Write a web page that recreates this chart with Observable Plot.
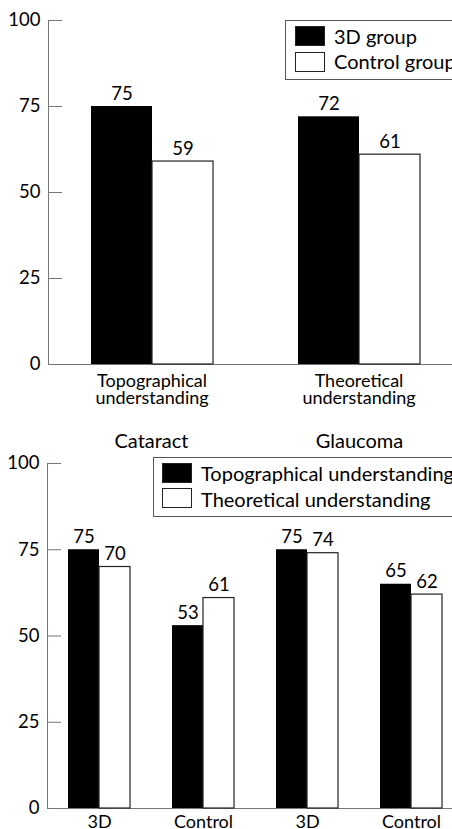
<!DOCTYPE html>
<html>
<head>
<meta charset="utf-8">
<script src="https://cdn.jsdelivr.net/npm/d3@7"></script>
<script src="https://cdn.jsdelivr.net/npm/@observablehq/plot@0.6"></script>
<style>
  html, body { margin: 0; padding: 0; background: #fff; overflow: hidden; }
  body { width: 452px; height: 829px; font-family: Lato, "Noto Sans", sans-serif; color: #000; }
  .panel { position: relative; width: 452px; overflow: hidden; }
  .panel svg { display: block; }
  .legend { position: absolute; box-sizing: border-box; border: 1px solid #555; background: #fff; width: 340px; height: 60px; }
  .sw { position: absolute; box-sizing: border-box; width: 30px; height: 20px; }
  .lt { position: absolute; font-size: 20px; line-height: 20px; white-space: nowrap; }
</style>
</head>
<body>
<div id="top" class="panel"></div>
<div id="bottom" class="panel"></div>
<script>
// ---------- data: top chart ----------
const topCategories = ["Topographical understanding", "Theoretical understanding"];
const topSeries = ["3D group", "Control group"];
const top3D = [75, 72];
const topControl = [59, 61];

// ---------- data: bottom chart ----------
const diseases = ["Cataract", "Glaucoma"];
const groups = ["3D", "Control"];
const bottomSeries = ["Topographical understanding", "Theoretical understanding"];
// order: Cataract 3D, Cataract Control, Glaucoma 3D, Glaucoma Control
const topographical = [75, 53, 75, 65];
const theoretical = [70, 61, 74, 62];

const yTicks = [0, 25, 50, 75, 100];

const font = "Lato, 'Noto Sans', sans-serif";
const axisGray = "#777";

// ---------- build tables ----------
const topRows = topCategories.flatMap((c, i) => [
  {cat: c, series: topSeries[0], v: top3D[i]},
  {cat: c, series: topSeries[1], v: topControl[i]}
]);

const bottomKeys = diseases.flatMap(d => groups.map(g => d + "|" + g));
const bottomRows = bottomKeys.flatMap((k, i) => [
  {key: k, series: bottomSeries[0], v: topographical[i]},
  {key: k, series: bottomSeries[1], v: theoretical[i]}
]);

function yAxisMarks() {
  return [
    Plot.frame({anchor: "left", facetAnchor: "left", stroke: axisGray}),
    Plot.axisY({ticks: yTicks, tickSize: -14, tickPadding: 22, stroke: axisGray, fontSize: 18.5, tickFormat: d => String(d)}),
    Plot.ruleY([0], {stroke: axisGray})
  ];
}

// ---------- top chart ----------
const topPlot = Plot.plot({
  width: 452,
  height: 415,
  marginLeft: 47,
  marginRight: 0,
  marginTop: 20,
  marginBottom: 51,
  style: {fontFamily: font, fontSize: "18.5px", color: "#000", background: "#fff"},
  fx: {domain: topCategories, range: [47.5, 461.5], padding: 0, label: null},
  x: {domain: topSeries, paddingInner: 0, paddingOuter: 0.683, axis: null},
  y: {domain: [0, 100], range: [364, 20], label: null},
  marks: [
    ...yAxisMarks(),
    Plot.axisFx({anchor: "bottom", tickSize: 0, tickPadding: 11, lineHeight: 0.92, fontSize: 18,
      tickFormat: d => d.replace(" ", "\n"), label: null}),
    Plot.barY(topRows.filter(d => d.series === topSeries[0]), {fx: "cat", x: "series", y: "v", fill: "#000"}),
    Plot.barY(topRows.filter(d => d.series === topSeries[1]), {fx: "cat", x: "series", y: "v", fill: "#fff", stroke: "#222", strokeWidth: 1.2}),
    Plot.text(topRows, {fx: "cat", x: "series", y: "v", text: d => String(d.v), lineAnchor: "bottom", dy: -7, fontSize: 18.5})
  ]
});
document.getElementById("top").appendChild(topPlot);

// ---------- bottom chart ----------
const bottomPlot = Plot.plot({
  width: 452,
  height: 414,
  marginLeft: 47,
  marginRight: 0,
  marginTop: 48,
  marginBottom: 21,
  style: {fontFamily: font, fontSize: "18.5px", color: "#000", background: "#fff"},
  fx: {domain: bottomKeys, range: [47, 463], padding: 0, label: null},
  x: {domain: bottomSeries, paddingInner: 0, paddingOuter: 0.677, axis: null},
  y: {domain: [0, 100], range: [393, 48], label: null},
  marks: [
    ...yAxisMarks(),
    Plot.axisFx({anchor: "bottom", tickSize: 0, tickPadding: 7, fontSize: 18, tickFormat: d => d.split("|")[1], label: null}),
    Plot.text(diseases, {fx: d => d + "|" + groups[0], text: d => d, frameAnchor: "top-right",
      textAnchor: "middle", lineAnchor: "bottom", dy: -16, fontSize: 20}),
    Plot.barY(bottomRows.filter(d => d.series === bottomSeries[0]), {fx: "key", x: "series", y: "v", fill: "#000"}),
    Plot.barY(bottomRows.filter(d => d.series === bottomSeries[1]), {fx: "key", x: "series", y: "v", fill: "#fff", stroke: "#222", strokeWidth: 1.2}),
    Plot.text(bottomRows, {fx: "key", x: "series", y: "v", text: d => String(d.v), lineAnchor: "bottom", dy: -7, fontSize: 18.5})
  ]
});
document.getElementById("bottom").appendChild(bottomPlot);

// ---------- legends (HTML overlays) ----------
function addLegend(container, left, top, labels, swLeft, swTops, textLeft, textTops) {
  const box = document.createElement("div");
  box.className = "legend";
  box.style.left = left + "px";
  box.style.top = top + "px";
  const fills = ["#000", "#fff"];
  labels.forEach((lab, i) => {
    const sw = document.createElement("div");
    sw.className = "sw";
    sw.style.left = swLeft + "px";
    sw.style.top = swTops[i] + "px";
    sw.style.background = fills[i];
    sw.style.border = "1px solid #222";
    box.appendChild(sw);
    const t = document.createElement("span");
    t.className = "lt";
    t.style.left = textLeft + "px";
    t.style.top = textTops[i] + "px";
    t.textContent = lab;
    box.appendChild(t);
  });
  container.appendChild(box);
}
addLegend(document.getElementById("top"), 285, 20, topSeries, 9, [5, 31], 48, [4.8, 29.8]);
addLegend(document.getElementById("bottom"), 153, 42, bottomSeries, 8, [5, 30], 47, [5.3, 31.3]);
</script>
</body>
</html>
